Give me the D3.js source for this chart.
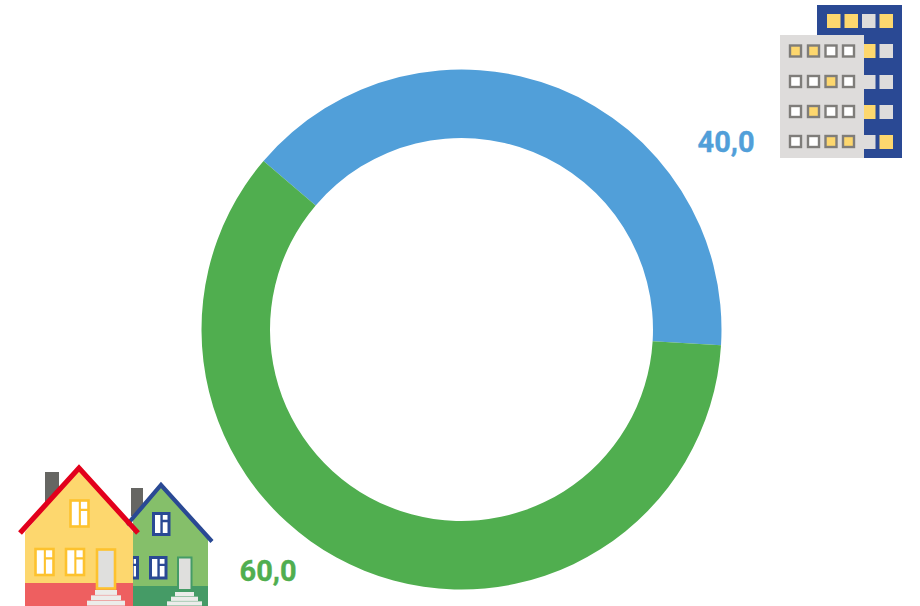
<!DOCTYPE html>
<html>
<head>
<meta charset="utf-8">
<script src="https://cdn.jsdelivr.net/npm/d3@7/dist/d3.min.js"></script>
<style>
  html, body { margin: 0; padding: 0; background: #fff; }
  svg { display: block; }
</style>
</head>
<body>
<svg id="chart" width="920" height="606"></svg>
<script>
const categories = ["Apartments", "Houses"];
// slice sizes measured off the ring, which is slightly off the printed 40/60
const values = [39.75, 60.25];
const valueLabels = ["40,0", "60,0"];
const colors = ["#519fd9", "#50ae4f"];

const cx = 461.5;
const cy = 329.5;
const outerRadius = 260;
const innerRadius = 191.5;
const startDeg = -49.6;

const svg = d3.select("#chart");

const soft = svg.append("defs").append("filter").attr("id", "soft");
soft.append("feGaussianBlur").attr("stdDeviation", 0.6);

const pie = d3
  .pie()
  .sort(null)
  .startAngle((startDeg * Math.PI) / 180)
  .endAngle(((startDeg + 360) * Math.PI) / 180);

const arc = d3.arc().innerRadius(innerRadius).outerRadius(outerRadius);

svg
  .append("g")
  .attr("transform", `translate(${cx},${cy})`)
  .selectAll("path")
  .data(pie(values))
  .join("path")
  .attr("fill", (d, i) => colors[i])
  .attr("d", arc)
  .append("title")
  .text((d, i) => categories[i]);

const labelSpots = [
  { x: 697.5, y: 152 },
  { x: 239.5, y: 580.5 },
];

svg
  .selectAll("text.value")
  .data(valueLabels)
  .join("text")
  .attr("class", "value")
  .attr("x", (d, i) => labelSpots[i].x)
  .attr("y", (d, i) => labelSpots[i].y)
  .attr("fill", (d, i) => colors[i])
  .attr("stroke", (d, i) => colors[i])
  .attr("stroke-width", 0.35)
  .style("font-family", "Roboto, sans-serif")
  .style("font-size", "29px")
  .style("font-weight", "700")
  .text((d) => d);

// building icon
const navy = "#2a4a94";
const yellow = "#fdd76e";
const pale = "#dedcdb";
const building = svg.append("g").attr("filter", "url(#soft)");

function rect(g, x, y, w, h, fill, stroke, sw) {
  const r = g.append("rect").attr("x", x).attr("y", y).attr("width", w).attr("height", h).attr("fill", fill);
  if (stroke) r.attr("stroke", stroke).attr("stroke-width", sw);
  return r;
}

rect(building, 817, 5, 85, 153, navy);
const backRows = [
  { y: 14, cells: [yellow, yellow, pale, yellow] },
  { y: 44, cells: [null, null, yellow, pale] },
  { y: 75, cells: [null, null, pale, pale] },
  { y: 105, cells: [null, null, yellow, pale] },
  { y: 135, cells: [null, null, pale, yellow] },
];
const backCols = [827, 844.5, 862, 879.5];
backRows.forEach((row) => {
  row.cells.forEach((c, i) => {
    if (c) rect(building, backCols[i], row.y, 13.5, 14, c);
  });
});

rect(building, 780, 35, 84, 123, pale);
const frontRows = [
  { y: 45.5, cells: [1, 1, 0, 0] },
  { y: 76, cells: [0, 0, 1, 0] },
  { y: 106, cells: [0, 1, 0, 0] },
  { y: 136, cells: [0, 0, 1, 1] },
];
const frontCols = [790, 808, 825.5, 843];
frontRows.forEach((row) => {
  row.cells.forEach((c, i) => {
    rect(building, frontCols[i], row.y, 11, 11, c ? yellow : "#fff", "#7f7d7a", 2.4);
  });
});

// houses icon
const houses = svg.append("g").attr("filter", "url(#soft)");

function poly(g, pts, fill) {
  return g.append("path").attr("d", d3.line()(pts) + "Z").attr("fill", fill);
}

function roof(g, pts, stroke, sw) {
  g.append("path")
    .attr("d", d3.line()(pts))
    .attr("fill", "none")
    .attr("stroke", stroke)
    .attr("stroke-width", sw)
    .attr("stroke-linejoin", "miter");
}

function windowBox(g, x, y, w, h, stroke, sw) {
  rect(g, x, y, w, h, "#fff", stroke, sw);
  g.append("path")
    .attr("d", `M${x + w * 0.52},${y}V${y + h}M${x + w * 0.52},${y + h * 0.36}H${x + w}`)
    .attr("stroke", stroke)
    .attr("stroke-width", sw * 0.8)
    .attr("fill", "none");
}

function steps(g, x0, x1, y0, y1, n) {
  const rowH = (y1 - y0) / n;
  d3.range(n).forEach((i) => {
    const inset = (n - 1 - i) * 4;
    rect(g, x0 + inset, y0 + i * rowH, x1 - x0 - 2 * inset, rowH - 0.4, "#ececea");
  });
}

// green house sits behind the yellow one
rect(houses, 131, 488, 12, 28, "#666664");
poly(houses, [[133, 516], [161, 484], [208, 538], [208, 606], [133, 606]], "#85bf6b");
rect(houses, 133, 586, 75, 20, "#459b66");
roof(houses, [[126, 526], [161, 485], [212, 541.5]], navy, 4.2);
windowBox(houses, 153.5, 513.5, 15.5, 21, navy, 3);
windowBox(houses, 150.5, 557.5, 15.5, 20.5, navy, 3);
windowBox(houses, 127, 557.5, 10.5, 20.5, navy, 3);
rect(houses, 178, 557.5, 13.5, 32.5, "#dfdfdd", "#459b66", 2);
steps(houses, 167, 202, 592, 606, 3);

rect(houses, 45, 472, 14, 34, "#666664");
poly(houses, [[25, 532], [79, 468], [133, 532], [133, 583], [25, 583]], "#fdd76e");
rect(houses, 25, 583, 108, 23, "#ee5f60");
roof(houses, [[20, 533], [79, 468], [138, 533]], "#e2001a", 5.2);
const gold = "#fdc22e";
windowBox(houses, 70.5, 500.5, 18, 26, gold, 2.6);
windowBox(houses, 35.5, 549, 18, 26, gold, 2.6);
windowBox(houses, 66, 549, 18, 26, gold, 2.6);
rect(houses, 97, 549.5, 18, 39, "#dfdfdd", gold, 2.6);
steps(houses, 87, 125, 590, 606, 3);
</script>
</body>
</html>
